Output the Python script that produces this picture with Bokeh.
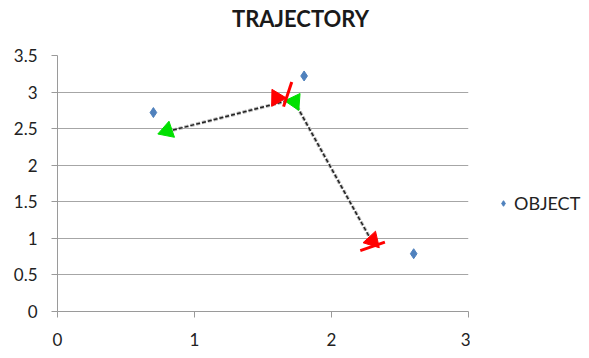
from bokeh.plotting import figure
from bokeh.layouts import row, column
from bokeh.models import Legend, LegendItem, Label, FixedTicker, Range1d
from bokeh.embed import file_html
from bokeh.resources import INLINE

# Observed object positions
object_x = [0.7, 1.8, 2.6]
object_y = [2.72, 3.22, 0.79]

# Estimated trajectory through the observations
track_x = [0.8, 1.72, 2.3]
track_y = [2.46, 2.9, 0.94]

# Direction arrow heads along the track
arrow_x = [0.8, 1.73, 1.6, 2.3]
arrow_y = [2.47, 2.87, 2.92, 0.97]
arrow_color = ["#00e000", "#00e000", "#ff0000", "#ff0000"]
arrow_angle = [1.9, -0.6, 2.6, -0.3]

# Short red bars crossing the track
bar_x = [2.3, 1.68]
bar_y = [0.89, 2.97]
bar_angle = [0.33, 1.25]

y_ticks = [0, 0.5, 1, 1.5, 2, 2.5, 3, 3.5]
x_ticks = [0, 1, 2, 3]

FONT = "Lato"
OBJ_COLOR = "#4f81bd"
TITLE_H = 40
LEFT, RIGHT = 57, 2
WIDTH = 470


def bare(fig):
    fig.axis.visible = False
    fig.grid.visible = False
    fig.outline_line_color = None
    return fig


# title strip above the chart; its frame lines up with the chart frame,
# so the x range is expressed in canvas pixels
head = bare(figure(width=WIDTH, height=TITLE_H, output_backend="svg",
                   toolbar_location=None,
                   x_range=Range1d(LEFT, WIDTH - RIGHT - 0),
                   y_range=Range1d(0, TITLE_H), min_border=0))
head.add_layout(Label(x=300, y=TITLE_H - 18, text="TRAJECTORY",
                      text_align="center", text_baseline="middle",
                      text_font=FONT, text_font_size="22px",
                      text_font_style="bold", text_color="#1a1a1a"))

p = figure(width=WIDTH, height=358 - TITLE_H, output_backend="svg",
           toolbar_location=None,
           x_range=Range1d(0, 3), y_range=Range1d(0, 3.5),
           min_border_left=LEFT, min_border_right=RIGHT,
           min_border_top=55 - TITLE_H, min_border_bottom=47)
p.outline_line_color = None

# axes
for ax in (p.xaxis, p.yaxis):
    ax.axis_line_color = "#9a9a9a"
    ax.major_tick_line_color = "#9a9a9a"
    ax.minor_tick_line_color = None
    ax.major_tick_in = 0
    ax.major_tick_out = 6
    ax.major_label_text_font = FONT
    ax.major_label_text_font_size = "17px"
    ax.major_label_text_color = "#222222"
p.xaxis.ticker = FixedTicker(ticks=x_ticks)
p.yaxis.ticker = FixedTicker(ticks=y_ticks)
p.xaxis.major_label_standoff = 15
p.yaxis.major_label_standoff = 14
p.yaxis.major_label_overrides = {t: (str(t) if t != int(t) else str(int(t))) for t in y_ticks}
p.xaxis.major_label_overrides = {t: str(t) for t in x_ticks}

p.xgrid.grid_line_color = None
p.ygrid.grid_line_color = "#a6a6a6"
p.ygrid.grid_line_width = 1.2

# trajectory line
p.line(track_x, track_y, line_color="#bbbbbb", line_width=3.5, line_dash="4 2")
p.line(track_x, track_y, line_color="#222222", line_width=1.5, line_dash="4 2")

# arrow heads and bars
p.scatter(arrow_x, arrow_y, marker="triangle", size=17, angle=arrow_angle,
          fill_color=arrow_color, line_color=arrow_color, line_width=1)
p.scatter(bar_x, bar_y, marker="dash", size=26, angle=bar_angle,
          line_color="#ff0000", line_width=3)

# observed points
p.scatter(object_x, object_y, marker="diamond", size=10,
          fill_color=OBJ_COLOR, line_color=OBJ_COLOR)

# legend panel to the right of the chart; the key renderer sits outside
# this panel's visible range so only the legend entry is drawn
leg = bare(figure(width=119, height=358, output_backend="svg",
                  toolbar_location=None, x_range=Range1d(10, 11),
                  y_range=Range1d(10, 11), min_border=0))
key = leg.scatter([0], [0], marker="diamond", size=10,
                  fill_color=OBJ_COLOR, line_color=OBJ_COLOR)
legend = Legend(items=[LegendItem(label="OBJECT", renderers=[key])],
                location=(26, 144), border_line_color=None,
                background_fill_alpha=0, label_text_font=FONT,
                label_text_font_size="18px", label_text_color="#222222",
                glyph_width=14, glyph_height=14, label_standoff=4,
                padding=0, margin=0)
leg.add_layout(legend, "center")

open("out.html", "w").write(file_html(row(column(head, p), leg), INLINE))
